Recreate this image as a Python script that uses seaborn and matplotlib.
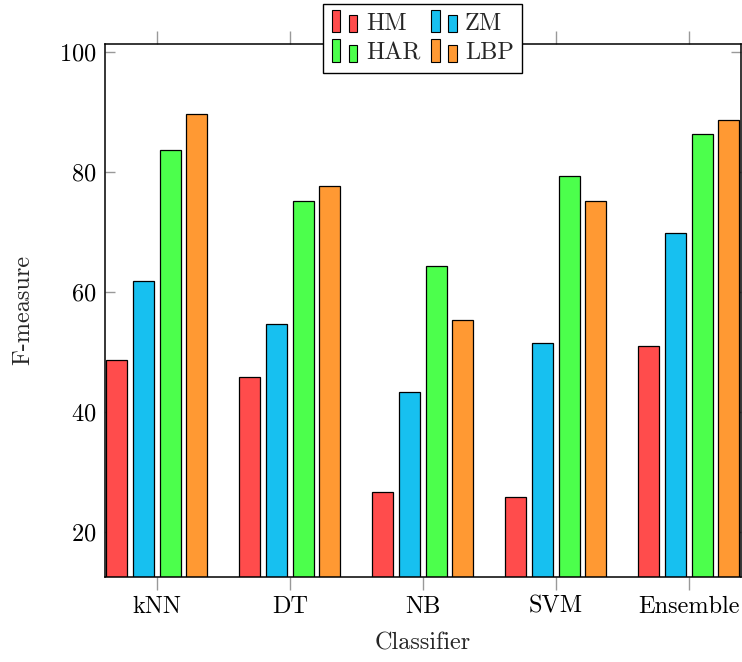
import matplotlib
matplotlib.use("Agg")
import matplotlib.pyplot as plt
import seaborn as sns
import pandas as pd
from matplotlib.legend_handler import HandlerBase
from matplotlib.patches import Rectangle, Patch

classifiers = ["kNN", "DT", "NB", "SVM", "Ensemble"]
series = ["HM", "ZM", "HAR", "LBP"]
hm = [48.6, 45.9, 26.7, 25.9, 51.0]
zm = [61.9, 54.6, 43.3, 51.5, 69.8]
har = [83.6, 75.1, 64.4, 79.4, 86.3]
lbp = [89.6, 77.7, 55.3, 75.1, 88.7]
colors = ["#ff4c4c", "#17c0f0", "#4cff4c", "#ff9933"]

rows = []
for name, vals in zip(series, [hm, zm, har, lbp]):
    for c, v in zip(classifiers, vals):
        rows.append({"Classifier": c, "Series": name, "F": v})
df = pd.DataFrame(rows)

sns.set_theme(style="white")
plt.rcParams["font.family"] = ["cmr10", "DejaVu Serif"]
plt.rcParams["axes.formatter.use_mathtext"] = True
plt.rcParams["mathtext.fontset"] = "cm"

FS = 17.5
W, H = 742, 662
fig = plt.figure(figsize=(W / 100, H / 100), dpi=100)
left, right, top, bottom = 105, 740.7, 43.7, 576.7
ax = fig.add_axes([left / W, 1 - bottom / H, (right - left) / W, (bottom - top) / H])

sns.barplot(data=df, x="Classifier", y="F", hue="Series", order=classifiers,
            hue_order=series, palette=colors, width=0.8, gap=0.21,
            edgecolor="black", linewidth=0.9, saturation=1, ax=ax, legend=False)

ax.set_xlim(-0.39, 4.39)
ax.set_ylim(12.55, 101.4)
ax.set_yticks([20, 40, 60, 80, 100])
for s in ax.spines.values():
    s.set_visible(True)
    s.set_color("black")
    s.set_linewidth(1.1)

ax.tick_params(axis="x", which="major", direction="out", length=9.5, width=1.0,
               color="#999999", top=True, bottom=True, labelsize=FS, pad=4,
               labelcolor="black")
ax.tick_params(axis="y", which="major", direction="in", length=7.5, width=1.0,
               color="#999999", left=True, right=True, labelsize=FS, pad=6,
               labelcolor="black")
ax.set_xlabel("Classifier", fontsize=FS, labelpad=11)
ax.set_ylabel("F-measure", fontsize=FS, labelpad=18)


class TwoBars(HandlerBase):
    def create_artists(self, legend, orig_handle, xdescent, ydescent, width, height,
                       fontsize, trans):
        fc = orig_handle.get_facecolor()
        w = width * 0.34
        r1 = Rectangle((-xdescent, -ydescent - 0.15 * height), w, height * 1.3,
                       facecolor=fc, edgecolor="black", linewidth=0.8, transform=trans)
        r2 = Rectangle((-xdescent + width - w, -ydescent - 0.15 * height), w, height * 1.0,
                       facecolor=fc, edgecolor="black", linewidth=0.8, transform=trans)
        return [r1, r2]


handles = [Patch(facecolor=c, edgecolor="black") for c in colors]
order = [0, 2, 1, 3]
leg = ax.legend([handles[i] for i in order], [series[i] for i in order],
                loc="upper center", bbox_to_anchor=(0.5, 1.0745),
                ncol=2, frameon=True, fancybox=False, framealpha=1, edgecolor="black",
                fontsize=FS, handlelength=1.05, handleheight=0.7, handletextpad=0.35,
                columnspacing=0.45, borderpad=0.35, labelspacing=0.3, borderaxespad=0,
                handler_map={Patch: TwoBars()})
leg.get_frame().set_linewidth(1.0)

fig.savefig("out.png", dpi=100)
